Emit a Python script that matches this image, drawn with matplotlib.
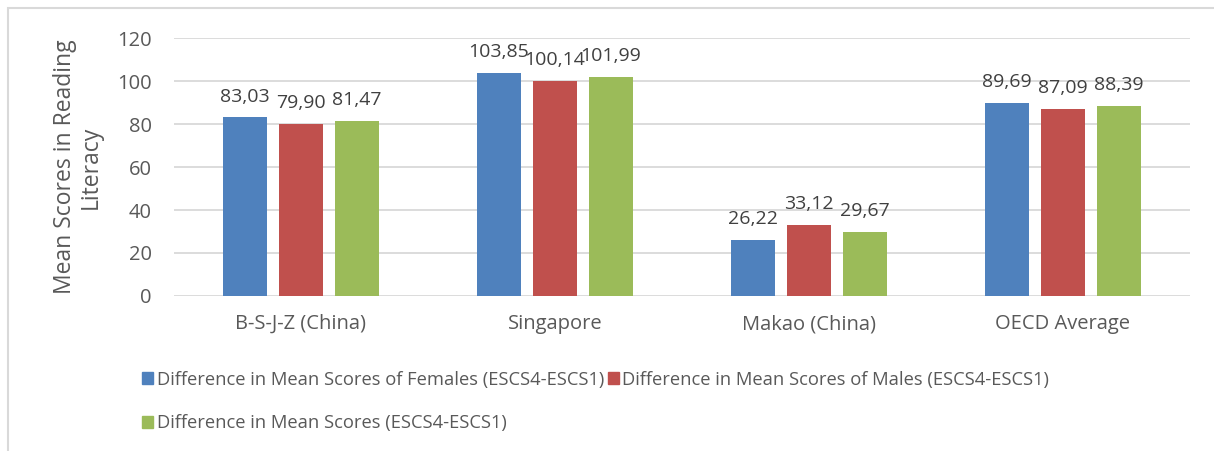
import matplotlib
matplotlib.use('Agg')
import numpy as np
import matplotlib.pyplot as plt
from matplotlib.patches import Rectangle, Patch

# Difference in mean reading scores, ESCS4 - ESCS1
countries = ['B-S-J-Z (China)', 'Singapore', 'Makao (China)', 'OECD Average']
females = [83.03, 103.85, 26.22, 89.69]
males = [79.90, 100.14, 33.12, 87.09]
total = [81.47, 101.99, 29.67, 88.39]

series_names = ['Difference in Mean Scores of Females (ESCS4-ESCS1)',
                'Difference in Mean Scores of Males (ESCS4-ESCS1)',
                'Difference in Mean Scores (ESCS4-ESCS1)']
colors = ['#4F81BD', '#C0504D', '#9BBB59']
txt = '#595959'

plt.rcParams['font.family'] = ['Open Sans', 'DejaVu Sans']

fig = plt.figure(figsize=(12.14, 4.51), dpi=100)
ax = fig.add_axes([0.1433, 0.3437, 0.8367, 0.572])

x = np.arange(len(countries))
w = 0.173
step = 0.22
for i, vals in enumerate([females, males, total]):
    pos = x + (i - 1) * step
    ax.bar(pos, vals, width=w, color=colors[i], zorder=3)
    for p, v in zip(pos, vals):
        ax.text(p, v + 5.5, ('%.2f' % v).replace('.', ','), ha='center',
                va='bottom', fontsize=14, color='#404040')

ax.set_xlim(-0.5, 3.5)
ax.set_ylim(0, 120)
ax.set_yticks(range(0, 121, 20))
ax.set_xticks(x)
ax.set_xticklabels(countries)
ax.tick_params(axis='both', length=0, labelsize=14.5, colors=txt)
ax.tick_params(axis='x', pad=13)
ax.tick_params(axis='y', pad=16)
ax.yaxis.grid(True, color='#D9D9D9', linewidth=1.3, zorder=0)
for s in ax.spines.values():
    s.set_visible(False)
ax.set_ylabel('Mean Scores in Reading\nLiteracy', fontsize=16.5, color=txt,
              labelpad=10, linespacing=1.1)

# chart frame
fig.patches.append(Rectangle((0.0066, -0.1), 1.2, 1.082, transform=fig.transFigure,
                             fill=False, edgecolor='#D9D9D9', linewidth=1.5))

handles = [Patch(color=c) for c in colors]
order = [0, 2, 1]
leg = fig.legend([handles[k] for k in order], [series_names[k] for k in order],
                 ncol=2, loc='upper left', bbox_to_anchor=(0.117, 0.178),
                 frameon=False, fontsize=13.2, handlelength=0.6, handleheight=0.6,
                 handletextpad=0.2, columnspacing=0.2, labelspacing=1.4,
                 borderaxespad=0, borderpad=0)
for t in leg.get_texts():
    t.set_color(txt)

fig.savefig('out.png', dpi=100)
